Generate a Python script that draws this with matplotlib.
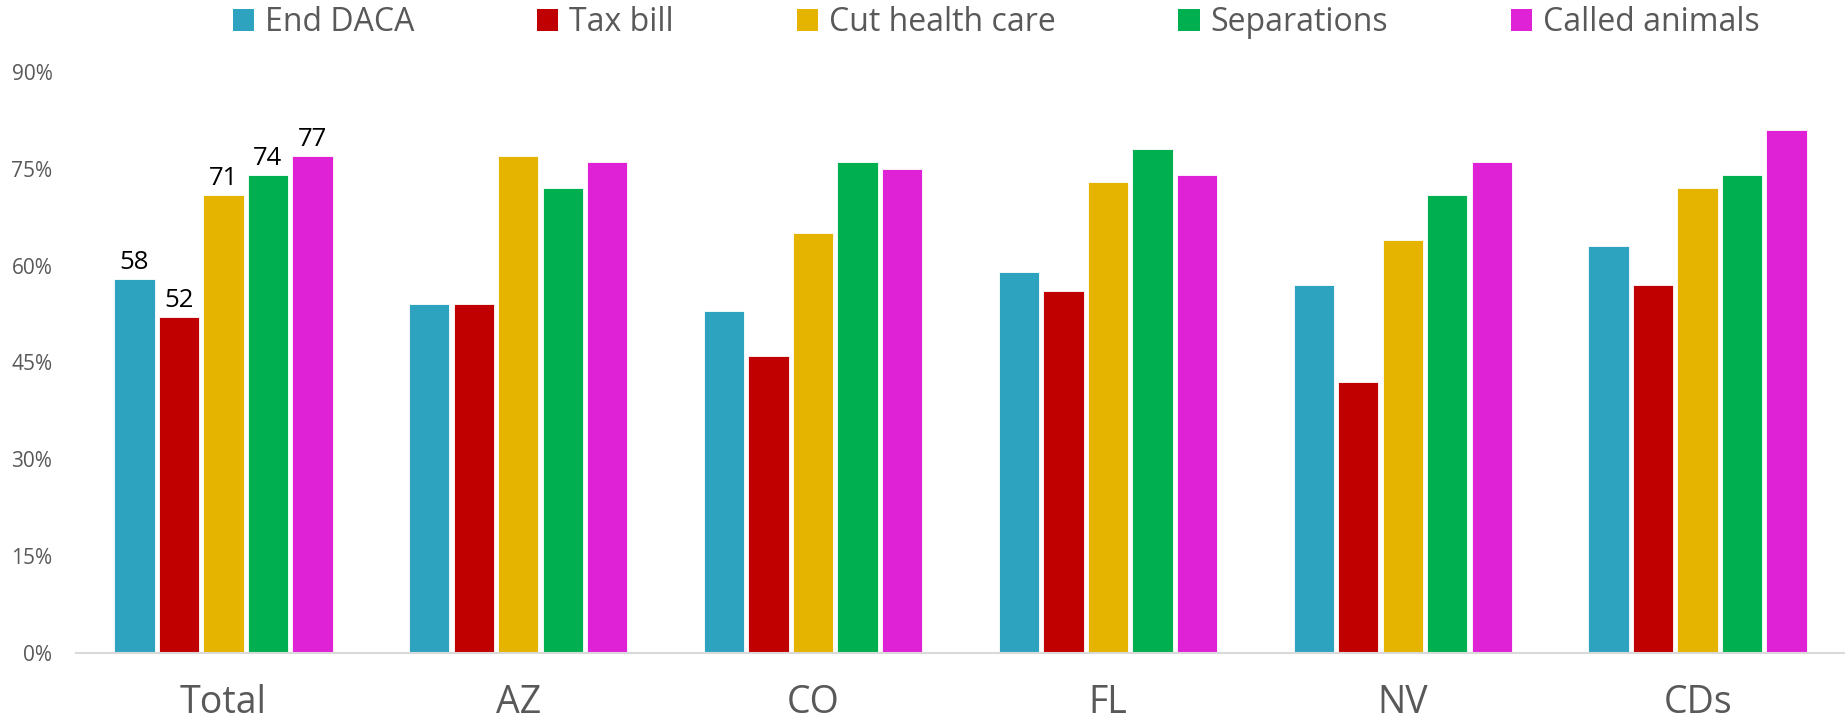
import matplotlib
matplotlib.use('Agg')
import matplotlib.pyplot as plt
import numpy as np
from matplotlib.patches import Patch
from matplotlib.ticker import FuncFormatter

plt.rcParams['font.family'] = ['Open Sans', 'DejaVu Sans']

# data
groups = ['Total', 'AZ', 'CO', 'FL', 'NV', 'CDs']
series = ['End DACA', 'Tax bill', 'Cut health care', 'Separations', 'Called animals']
end_daca = [58, 54, 53, 59, 57, 63]
tax_bill = [52, 54, 46, 56, 42, 57]
cut_health = [71, 77, 65, 73, 64, 72]
separations = [74, 72, 76, 78, 71, 74]
called_animals = [77, 76, 75, 74, 76, 81]
y_ticks = [0, 15, 30, 45, 60, 75, 90]

values = [end_daca, tax_bill, cut_health, separations, called_animals]
colors = ['#2EA3BF', '#C00000', '#E5B400', '#00B050', '#DF22D6']

fig = plt.figure(figsize=(18.45, 7.25), dpi=100)
ax = fig.add_axes([76/1845, 1-653/725, 1-76/1845, (653-72)/725])

x = np.arange(len(groups))
slot = 0.151
bw = 0.137
for k, (vals, col) in enumerate(zip(values, colors)):
    xpos = x + (k - 2) * slot
    bars = ax.bar(xpos, vals, width=bw, color=col, edgecolor='white', linewidth=0.6)
    # only the Total group carries labels
    ax.text(xpos[0], vals[0] + 0.6, str(vals[0]), ha='center', va='bottom',
            fontsize=18.5, color='black')

ax.set_xlim(-0.5, 5.5)
ax.set_ylim(0, 90)
ax.set_yticks(y_ticks)
ax.yaxis.set_major_formatter(FuncFormatter(lambda v, p: '%d%%' % v))
ax.set_xticks(x)
ax.set_xticklabels(groups)

for s in ['top', 'right', 'left']:
    ax.spines[s].set_visible(False)
ax.spines['bottom'].set_color('#D9D9D9')
ax.spines['bottom'].set_linewidth(1.5)
ax.tick_params(axis='y', length=0, pad=17, labelsize=15, labelcolor='#595959')
ax.tick_params(axis='x', length=0, pad=22, labelsize=27, labelcolor='#595959')

handles = [Patch(facecolor=c, edgecolor='none') for c in colors]
leg = fig.legend(handles, series, loc='center', bbox_to_anchor=(0.54, 0.969), ncol=5,
                 frameon=False, fontsize=23, labelcolor='#595959',
                 handlelength=0.66, handleheight=0.66, handletextpad=0.34,
                 columnspacing=3.85, borderpad=0, borderaxespad=0)

fig.savefig('out.png', dpi=100)
